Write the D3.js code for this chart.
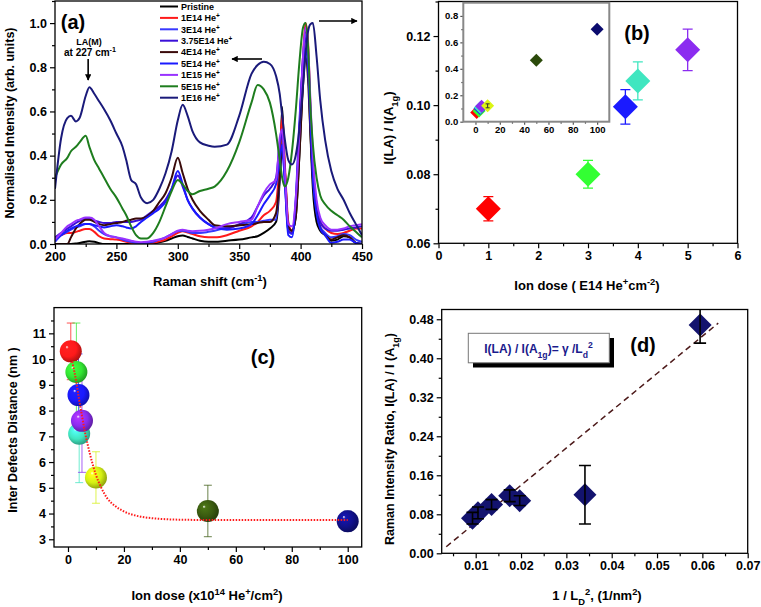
<!DOCTYPE html>
<html>
<head>
<meta charset="utf-8">
<script src="https://cdnjs.cloudflare.com/ajax/libs/d3/7.8.5/d3.min.js"></script>
<style>
body { margin: 0; background: #fff; }
svg text { font-family: "Liberation Sans", Arial, sans-serif; font-weight: bold; }
</style>
</head>
<body>
<svg width="761" height="607"></svg>
<script>
// ---------- data : panel (a) spectra ----------
var shift = [200,205,210,213,217,220,225,228,232,236,240,245,250,255,258,262,266,270,275,280,
  285,290,295,300,304,308,312,318,325,330,340,350,360,365,370,375,380,383,385,387,
  390,393,396,399,402,404,406,408,410,413,416,420,425,430,435,440,445,450];

var pristine = [0,0,0,0,0.002,0.005,0.01,0.013,0.01,0.004,0,0,0,0,0,0,0,0,0,0.003,
  0.008,0.015,0.025,0.035,0.038,0.032,0.025,0.015,0.01,0.01,0.015,0.02,0.03,0.035,0.05,0.07,0.1,0.3,0.62,0.35,
  0.08,0.06,0.12,0.4,0.75,0.98,0.85,0.5,0.25,0.1,0.06,0.04,0.015,0.02,0.035,0.03,0.005,0];
var he1e14 = [0.03,0.04,0.05,0.05,0.055,0.06,0.068,0.068,0.055,0.035,0.025,0.022,0.02,0.015,0.01,0.005,0,0,0,0.005,
  0.012,0.02,0.035,0.05,0.058,0.052,0.045,0.035,0.03,0.03,0.04,0.06,0.08,0.1,0.13,0.15,0.19,0.38,0.58,0.38,
  0.1,0.06,0.15,0.5,0.85,1.0,0.92,0.62,0.35,0.17,0.1,0.07,0.05,0.045,0.05,0.06,0.07,0.07];
var he3e14 = [0.01,0.04,0.055,0.065,0.075,0.08,0.09,0.09,0.08,0.06,0.045,0.035,0.03,0.02,0.015,0.01,0.005,0.003,0.005,0.01,
  0.02,0.03,0.045,0.058,0.06,0.055,0.05,0.05,0.055,0.06,0.075,0.085,0.1,0.1,0.105,0.11,0.11,0.3,0.42,0.3,
  0.06,0.045,0.15,0.5,0.85,0.95,0.86,0.58,0.32,0.15,0.08,0.05,0.03,0.035,0.045,0.04,0.02,0.01];
var he375e14 = [0.03,0.05,0.07,0.08,0.095,0.105,0.115,0.115,0.105,0.1,0.095,0.095,0.1,0.1,0.1,0.1,0.105,0.11,0.13,0.15,
  0.17,0.2,0.25,0.31,0.26,0.2,0.16,0.12,0.09,0.075,0.07,0.09,0.12,0.17,0.22,0.25,0.3,0.45,0.5,0.32,
  0.06,0.05,0.18,0.5,0.82,0.93,0.85,0.6,0.35,0.18,0.1,0.07,0.06,0.06,0.065,0.07,0.075,0.08];
var he4e14 = [0,0,0,0.03,0.07,0.09,0.11,0.11,0.1,0.09,0.085,0.09,0.095,0.1,0.105,0.11,0.115,0.115,0.125,0.15,
  0.19,0.23,0.3,0.39,0.32,0.25,0.2,0.15,0.11,0.085,0.08,0.085,0.09,0.095,0.1,0.1,0.14,0.3,0.45,0.35,
  0.08,0.06,0.12,0.4,0.72,0.85,0.75,0.5,0.3,0.14,0.07,0.04,0.02,0.03,0.04,0.03,0.005,0];
var he5e14 = [0.02,0.04,0.06,0.07,0.08,0.085,0.09,0.09,0.085,0.08,0.075,0.08,0.085,0.08,0.075,0.07,0.08,0.1,0.12,0.14,
  0.16,0.19,0.25,0.33,0.27,0.2,0.16,0.12,0.09,0.075,0.065,0.07,0.09,0.13,0.18,0.22,0.27,0.38,0.45,0.3,
  0.04,0.03,0.2,0.55,0.82,0.88,0.8,0.55,0.3,0.14,0.07,0.04,0.005,0.01,0.02,0.02,0.005,0];
var he1e15 = [0.02,0.05,0.08,0.09,0.105,0.11,0.12,0.12,0.11,0.08,0.05,0.035,0.03,0.025,0.02,0.015,0.01,0.008,0.01,0.015,
  0.02,0.03,0.045,0.06,0.065,0.06,0.058,0.06,0.065,0.07,0.09,0.1,0.11,0.17,0.23,0.27,0.29,0.48,0.52,0.35,
  0.09,0.08,0.2,0.5,0.85,0.98,0.9,0.65,0.4,0.2,0.12,0.085,0.065,0.065,0.07,0.08,0.085,0.09];
var he5e15 = [0.3,0.36,0.39,0.42,0.44,0.46,0.49,0.44,0.38,0.34,0.3,0.25,0.21,0.16,0.13,0.08,0.04,0.025,0.025,0.05,
  0.1,0.17,0.24,0.29,0.27,0.24,0.225,0.24,0.25,0.26,0.33,0.46,0.64,0.72,0.7,0.64,0.5,0.38,0.3,0.26,
  0.3,0.42,0.6,0.82,0.98,1.0,0.9,0.62,0.45,0.3,0.22,0.18,0.15,0.13,0.11,0.08,0.055,0.03];
var he1e16 = [0.25,0.48,0.57,0.58,0.555,0.57,0.67,0.71,0.68,0.645,0.61,0.56,0.5,0.44,0.38,0.29,0.27,0.21,0.185,0.2,
  0.25,0.32,0.42,0.56,0.63,0.58,0.51,0.46,0.445,0.44,0.45,0.58,0.77,0.81,0.825,0.815,0.76,0.68,0.58,0.48,
  0.38,0.36,0.4,0.52,0.72,0.86,0.96,0.995,1.0,0.85,0.65,0.47,0.33,0.25,0.2,0.14,0.09,0.04];

var seriesNames = ["Pristine","1E14 He","3E14 He","3.75E14 He","4E14 He","5E14 He","1E15 He","5E15 He","1E16 He"];
var seriesColors = ["#000000","#ff1a1a","#3838ff","#3a10d8","#3a0a0a","#1a1aff","#9933ff","#1e7d1e","#1a1a7a"];
var spectra = [pristine, he1e14, he3e14, he375e14, he4e14, he5e14, he1e15, he5e15, he1e16];

// ---------- data : panel (b) ----------
var doseB = [1, 3, 3.75, 4, 5];
var ratioB = [0.070, 0.080, 0.0995, 0.107, 0.116];
var errB = [0.0035, 0.004, 0.005, 0.0055, 0.006];
var colorsB = ["#ff0000","#33ff33","#1a1aff","#40e6c0","#8b2cf0"];

var doseIn = [1, 3, 3.75, 4, 5, 10, 50, 100];
var ratioIn = [0.07, 0.08, 0.0995, 0.107, 0.116, 0.12, 0.465, 0.70];
var colorsIn = ["#ff0000","#33ff33","#1a1aff","#40e6c0","#8b2cf0","#dcf514","#2b4a0a","#0b0b6e"];

// ---------- data : panel (c) ----------
var doseC = [1, 3, 3.75, 4, 5, 10, 50, 100];
var ldC = [10.3, 9.5, 8.6, 7.1, 7.6, 5.4, 4.1, 3.7];
var ldLo = [9.2, 7.6, 7.0, 5.2, 5.6, 4.4, 3.1, 3.3];
var ldHi = [11.4, 11.4, 10.2, 9.0, 9.6, 6.4, 5.1, 4.1];
var colorsC = ["#ff1a1a","#33e633","#1a1aff","#40e6c0","#8b2cf0","#d4f014","#3a5a10","#10108a"];
var fitDose = [1.5, 3, 4, 5, 6, 7, 8, 10, 12, 14, 17, 20, 25, 30, 35, 40, 50, 70, 100];
var fitLd = [9.9, 9.1, 8.4, 7.8, 7.2, 6.7, 6.25, 5.5, 4.98, 4.6, 4.28, 4.08, 3.9, 3.82, 3.78, 3.76, 3.75, 3.75, 3.75];

// ---------- data : panel (d) ----------
var invLd2 = [0.0093, 0.0105, 0.0135, 0.0175, 0.0197, 0.0341, 0.0595];
var ratioD = [0.072, 0.083, 0.1, 0.118, 0.108, 0.12, 0.468];
var errD = [0.012, 0.012, 0.01, 0.012, 0.01, 0.06, 0.037];
var lineX = [0.0035, 0.0635];
var lineY = [0.0135, 0.472];

// ---------- helpers ----------
var svg = d3.select("svg");
var FONT = "Liberation Sans, Arial, sans-serif";

function strip(s, c) {
  s.attr("font-family", FONT).attr("font-weight", "bold");
  s.select(".domain").remove();
  s.selectAll("line").attr("stroke", c || "#000").attr("stroke-width", 1.2);
  s.selectAll("text").attr("fill", "#000");
}

function drawAxes(g, x, y, o) {
  var xr = x.range(), yr = y.range();
  var fs = o.fs || 12.5, maj = o.major || 5, mn = o.minor || 3;
  g.append("g").attr("transform", "translate(0," + yr[0] + ")")
    .call(d3.axisBottom(x).tickValues(o.xMinor).tickSize(mn).tickFormat(""))
    .call(strip, o.tick);
  g.append("g").attr("transform", "translate(0," + yr[0] + ")")
    .call(d3.axisBottom(x).tickValues(o.xMajor).tickSize(maj).tickPadding(o.pad || 3).tickFormat(o.xFmt))
    .call(strip, o.tick).attr("font-size", fs);
  g.append("g").attr("transform", "translate(" + xr[0] + ",0)")
    .call(d3.axisLeft(y).tickValues(o.yMinor).tickSize(mn).tickFormat(""))
    .call(strip, o.tick);
  g.append("g").attr("transform", "translate(" + xr[0] + ",0)")
    .call(d3.axisLeft(y).tickValues(o.yMajor).tickSize(maj).tickPadding(o.pad || 3).tickFormat(o.yFmt))
    .call(strip, o.tick).attr("font-size", fs);
  g.append("rect")
    .attr("x", xr[0]).attr("y", yr[1])
    .attr("width", xr[1] - xr[0]).attr("height", yr[0] - yr[1])
    .attr("fill", "none").attr("stroke", o.frame || "#000").attr("stroke-width", o.fw || 1.3);
}

function rich(t, parts, fs) {
  parts.forEach(function (p) {
    var sp = t.append("tspan").text(p[0]);
    if (p[1] === "sup") sp.attr("baseline-shift", "super").attr("font-size", fs * 0.72);
    if (p[1] === "sub") sp.attr("baseline-shift", "sub").attr("font-size", fs * 0.72);
  });
  return t;
}

function label(x, y, parts, fs, rot, anchor) {
  var t = svg.append("text").attr("font-size", fs).attr("text-anchor", anchor || "middle")
    .attr("transform", "translate(" + x + "," + y + ")" + (rot ? " rotate(-90)" : ""));
  return rich(t, parts, fs);
}

function diamond(r) { return "M0," + (-r) + "L" + r + ",0L0," + r + "L" + (-r) + ",0Z"; }

function errPath(x, y1, y0, w) {
  return "M" + x + "," + y1 + "V" + y0 + "M" + (x - w) + "," + y1 + "H" + (x + w) + "M" + (x - w) + "," + y0 + "H" + (x + w);
}

var defs = svg.append("defs");
defs.append("marker").attr("id", "arr").attr("viewBox", "0 0 10 10").attr("refX", 9).attr("refY", 5)
  .attr("markerWidth", 5).attr("markerHeight", 4).attr("orient", "auto")
  .append("path").attr("d", "M0,0L10,5L0,10Z").attr("fill", "#000");

// ================= panel (a) =================
var xa = d3.scaleLinear().domain([200, 450]).range([55, 362]);
var ya = d3.scaleLinear().domain([0, 1.1]).range([244, 1]);
var ga = svg.append("g");
defs.append("clipPath").attr("id", "clipA").append("rect")
  .attr("x", 55).attr("y", 1).attr("width", 307).attr("height", 243);

var lineA = d3.line().x(function (d) { return xa(d[0]); }).y(function (d) { return ya(d[1]); })
  .curve(d3.curveMonotoneX);
var curves = ga.append("g").attr("clip-path", "url(#clipA)");
spectra.forEach(function (s, i) {
  curves.append("path").datum(shift.map(function (v, k) { return [v, s[k]]; }))
    .attr("d", lineA).attr("fill", "none").attr("stroke", seriesColors[i])
    .attr("stroke-width", 2).attr("stroke-linejoin", "round");
});

drawAxes(ga, xa, ya, {
  xMajor: [200, 250, 300, 350, 400, 450], xMinor: d3.range(225, 450, 50),
  yMajor: [0, 0.2, 0.4, 0.6, 0.8, 1.0], yMinor: [0.1, 0.3, 0.5, 0.7, 0.9, 1.1],
  xFmt: d3.format("d"), yFmt: d3.format(".1f")
});

// legend
var lg = ga.append("g");
seriesNames.forEach(function (n, i) {
  var yy = 6.5 + i * 11.4;
  lg.append("line").attr("x1", 160).attr("x2", 178).attr("y1", yy).attr("y2", yy)
    .attr("stroke", seriesColors[i]).attr("stroke-width", 2);
  var t = lg.append("text").attr("x", 181).attr("y", yy + 3.3).attr("font-size", 9);
  rich(t, i === 0 ? [[n]] : [[n], ["+", "sup"]], 9);
});

label(73, 29, [["(a)"]], 20);
label(89, 45, [["LA(M)"]], 9);
label(90, 56, [["at 227 cm"], ["-1", "sup"]], 10);
ga.append("line").attr("x1", xa(227)).attr("x2", xa(227)).attr("y1", 59).attr("y2", 80)
  .attr("stroke", "#000").attr("stroke-width", 1.6).attr("marker-end", "url(#arr)");
ga.append("line").attr("x1", 262).attr("x2", 232).attr("y1", 59).attr("y2", 59)
  .attr("stroke", "#000").attr("stroke-width", 1.6).attr("marker-end", "url(#arr)");
ga.append("line").attr("x1", 319).attr("x2", 357).attr("y1", 21).attr("y2", 21)
  .attr("stroke", "#000").attr("stroke-width", 1.6).attr("marker-end", "url(#arr)");

label(14, 123, [["Normalised Intensity (arb. units)"]], 12.5, true);
label(210, 286, [["Raman shift (cm"], ["-1", "sup"], [")"]], 13);

// ================= panel (b) =================
var xb = d3.scaleLinear().domain([0, 6]).range([438.5, 737.5]);
var yb = d3.scaleLinear().domain([0.06, 0.13]).range([243.3, 1.5]);
var gb = svg.append("g");
drawAxes(gb, xb, yb, {
  xMajor: d3.range(0, 7), xMinor: d3.range(0.5, 6, 1),
  yMajor: [0.06, 0.08, 0.10, 0.12], yMinor: [0.07, 0.09, 0.11, 0.13],
  xFmt: d3.format("d"), yFmt: d3.format(".2f")
});
doseB.forEach(function (d, i) {
  var x = xb(d), c = colorsB[i];
  gb.append("path").attr("d", errPath(x, yb(ratioB[i] + errB[i]), yb(ratioB[i] - errB[i]), 5))
    .attr("stroke", c).attr("stroke-width", 1.3).attr("fill", "none");
  gb.append("path").attr("d", diamond(12.5)).attr("transform", "translate(" + x + "," + yb(ratioB[i]) + ")")
    .attr("fill", c);
});
label(637, 40, [["(b)"]], 20);
label(393, 128, [["I(LA) / I(A"], ["1g", "sub"], [")"]], 13, true);
label(587, 290, [["Ion dose ( E14 He"], ["+", "sup"], ["cm"], ["-2", "sup"], [")"]], 13);

// inset
var xi = d3.scaleLinear().domain([-10, 110]).range([463.3, 609.3]);
var yi = d3.scaleLinear().domain([0, 0.9]).range([121.7, 2.7]);
var gi = svg.append("g");
gi.append("rect").attr("x", 463.3).attr("y", 2.7).attr("width", 146).attr("height", 119).attr("fill", "#fff");
doseIn.forEach(function (d, i) {
  gi.append("path").attr("d", diamond(6.5))
    .attr("transform", "translate(" + xi(d) + "," + yi(ratioIn[i]) + ")").attr("fill", colorsIn[i]);
});
gi.append("path").attr("d", errPath(xi(10), yi(0.135), yi(0.105), 2))
  .attr("stroke", "#333").attr("stroke-width", 1);
drawAxes(gi, xi, yi, {
  xMajor: d3.range(0, 101, 20), xMinor: d3.range(10, 110, 20),
  yMajor: [0, 0.2, 0.4, 0.6, 0.8], yMinor: [0.1, 0.3, 0.5, 0.7],
  xFmt: d3.format("d"), yFmt: d3.format(".1f"), fs: 9.5, major: 3, minor: 2, pad: 2,
  frame: "#888", fw: 2, tick: "#555"
});

// ================= panel (c) =================
var xc = d3.scaleLinear().domain([-5, 105]).range([54, 361.7]);
var yc = d3.scaleLinear().domain([2.7, 12]).range([547, 307.6]);
var gc = svg.append("g");
drawAxes(gc, xc, yc, {
  xMajor: d3.range(0, 101, 20), xMinor: d3.range(10, 101, 20),
  yMajor: d3.range(3, 12), yMinor: d3.range(3.5, 12, 1),
  xFmt: d3.format("d"), yFmt: d3.format("d")
});
doseC.forEach(function (d, i) {
  gc.append("path").attr("d", errPath(xc(d), yc(ldHi[i]), yc(ldLo[i]), 4))
    .attr("stroke", colorsC[i]).attr("stroke-width", 1).attr("opacity", 0.75).attr("fill", "none");
});
doseC.forEach(function (d, i) {
  var c = colorsC[i];
  var gr = defs.append("radialGradient").attr("id", "sph" + i).attr("cx", "42%").attr("cy", "42%").attr("r", "62%").attr("fx", "32%").attr("fy", "30%");
  gr.append("stop").attr("offset", "0%").attr("stop-color", "#ffffff");
  gr.append("stop").attr("offset", "12%").attr("stop-color", d3.color(c).brighter(0.7));
  gr.append("stop").attr("offset", "60%").attr("stop-color", c);
  gr.append("stop").attr("offset", "100%").attr("stop-color", d3.color(c).darker(1.2));
  gc.append("circle").attr("cx", xc(d)).attr("cy", yc(ldC[i])).attr("r", 11).attr("fill", "url(#sph" + i + ")");
});
// fitted decay drawn over the spheres
gc.append("path").datum(fitDose.map(function (d, k) { return [d, fitLd[k]]; }))
  .attr("d", d3.line().x(function (d) { return xc(d[0]); }).y(function (d) { return yc(d[1]); }).curve(d3.curveMonotoneX))
  .attr("fill", "none").attr("stroke", "#ff1a1a").attr("stroke-width", 2).attr("stroke-dasharray", "1.5,1.5");
label(263, 364, [["(c)"]], 20);
label(17, 430, [["Inter Defects Distance (nm )"]], 12.5, true);
label(207, 600, [["Ion dose (x10"], ["14", "sup"], [" He"], ["+", "sup"], ["/cm"], ["2", "sup"], [")"]], 13);

// ================= panel (d) =================
var xd = d3.scaleLinear().domain([0.0025, 0.07]).range([441.7, 747.7]);
var yd = d3.scaleLinear().domain([0, 0.5]).range([553.3, 309.5]);
var gd = svg.append("g");
defs.append("clipPath").attr("id", "clipD").append("rect")
  .attr("x", 441.7).attr("y", 309.5).attr("width", 306).attr("height", 243.8);
drawAxes(gd, xd, yd, {
  xMajor: [0.01, 0.02, 0.03, 0.04, 0.05, 0.06, 0.07], xMinor: d3.range(0.005, 0.07, 0.01),
  yMajor: [0, 0.08, 0.16, 0.24, 0.32, 0.40, 0.48], yMinor: [0.04, 0.12, 0.2, 0.28, 0.36, 0.44],
  xFmt: d3.format(".2f"), yFmt: d3.format(".2f")
});
gd.append("line").attr("x1", xd(lineX[0])).attr("y1", yd(lineY[0])).attr("x2", xd(lineX[1])).attr("y2", yd(lineY[1]))
  .attr("stroke", "#4d1a1a").attr("stroke-width", 1.5).attr("stroke-dasharray", "6,4");
var pd = gd.append("g").attr("clip-path", "url(#clipD)");
invLd2.forEach(function (d, i) {
  pd.append("path").attr("d", diamond(11.5))
    .attr("transform", "translate(" + xd(d) + "," + yd(ratioD[i]) + ")").attr("fill", "#13136e");
});
invLd2.forEach(function (d, i) {
  pd.append("path").attr("d", errPath(xd(d), yd(ratioD[i] + errD[i]), yd(ratioD[i] - errD[i]), 6))
    .attr("stroke", "#000").attr("stroke-width", 1.6).attr("fill", "none");
});
// equation box with shadow
gd.append("rect").attr("x", 473).attr("y", 338).attr("width", 141).attr("height", 29.5).attr("fill", "#000");
gd.append("rect").attr("x", 468.3).attr("y", 333.3).attr("width", 141).attr("height", 29.5)
  .attr("fill", "#fff").attr("stroke", "#777").attr("stroke-width", 1);
label(538.5, 352.5, [["I(LA) / I(A"], ["1g", "sub"], [")= \u03b3 /L"], ["d", "sub"], ["2", "sup"]], 12)
  .attr("fill", "#1a1a8c");
label(643, 352, [["(d)"]], 20);
label(394, 545, [["Raman Intensity Ratio, I(LA) / I (A"], ["1g", "sub"], [")"]], 12.5, true, "start");
label(597, 600, [["1 / L"], ["D", "sub"], ["2", "sup"], [", (1/nm"], ["2", "sup"], [")"]], 13);
</script>
</body>
</html>
